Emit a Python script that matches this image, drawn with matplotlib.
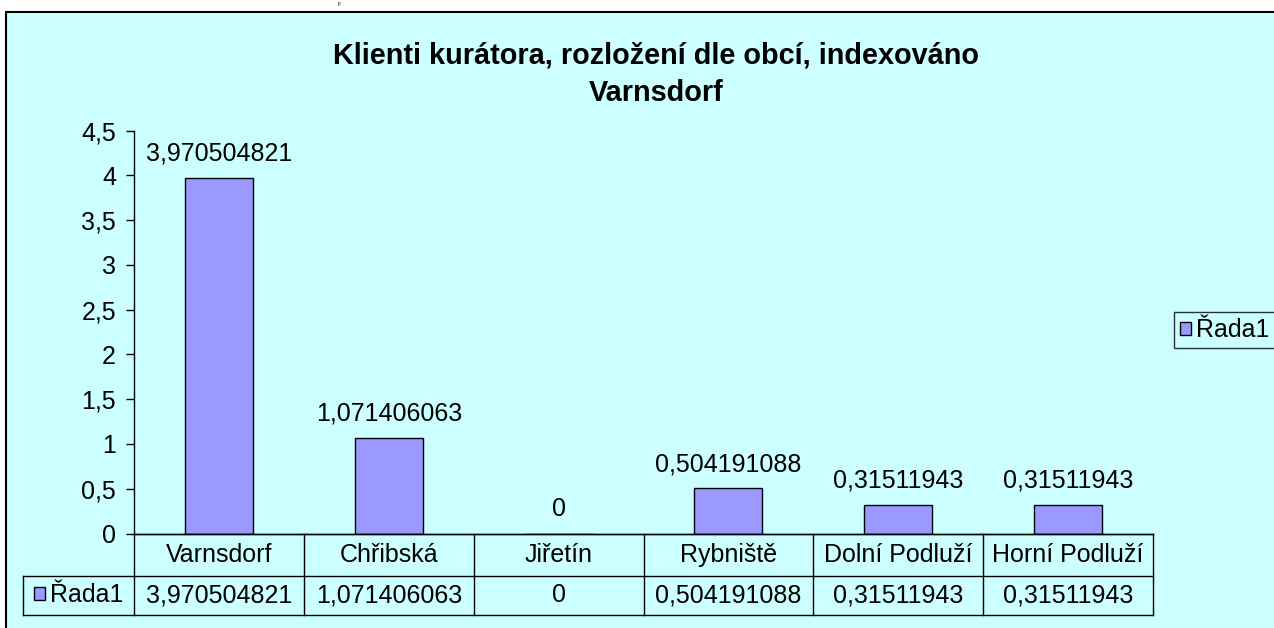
import matplotlib.pyplot as plt
from matplotlib.patches import Rectangle
from matplotlib.ticker import MultipleLocator, FuncFormatter

plt.rcParams['font.family'] = ['Liberation Sans', 'DejaVu Sans']

obce = ['Varnsdorf', 'Chřibská', 'Jiřetín', 'Rybniště', 'Dolní Podluží', 'Horní Podluží']
hodnoty = [3.970504821, 1.071406063, 0, 0.504191088, 0.31511943, 0.31511943]
rada = 'Řada1'
titulek1 = 'Klienti kurátora, rozložení dle obcí, indexováno'
titulek2 = 'Varnsdorf'

W, H = 1274, 628
BG = '#CCFFFF'
BAR = '#9999FF'
FS = 18


def fx(x):
    return x / W


def fy(y):
    return 1 - y / H


def cz(v):
    return f'{v:.10g}'.replace('.', ',')


fig = plt.figure(figsize=(W / 100, H / 100), dpi=100)
fig.patch.set_facecolor('white')

# chart area frame (right and bottom run off the picture)
fig.patches.append(Rectangle((fx(6), -0.1), 1.2, fy(12) + 0.1, transform=fig.transFigure,
                             facecolor=BG, edgecolor='black', lw=1.5, zorder=-5))
# remnant of text above the chart
fig.text(fx(339), fy(0.5), 'p', family='Liberation Serif', fontsize=4,
         ha='center', va='top')

fig.text(fx(656), fy(64), titulek1, ha='center', va='baseline', fontsize=20.8, fontweight='bold')
fig.text(fx(656), fy(101), titulek2, ha='center', va='baseline', fontsize=20.8, fontweight='bold')

y0, y45 = 533.5, 130.7
ax = fig.add_axes([fx(134), fy(y0), fx(1153 - 134), (y0 - y45) / H])
ax.patch.set_alpha(0)
x = list(range(len(obce)))
bars = ax.bar(x, hodnoty, width=0.4, color=BAR, edgecolor='black', lw=1.0, label=rada)
for xi, v in zip(x, hodnoty):
    ax.annotate(cz(v), (xi, v), xytext=(0, 12.5), textcoords='offset points',
                ha='center', va='baseline', fontsize=FS)
ax.set_xlim(-0.5, len(obce) - 0.5)
ax.set_ylim(0, 4.5)
ax.yaxis.set_major_locator(MultipleLocator(0.5))
ax.yaxis.set_major_formatter(FuncFormatter(lambda v, p: cz(round(v, 1))))
ax.tick_params(axis='y', length=6, width=1, pad=7, labelsize=FS)
ax.set_xticks([])
for s in ['top', 'right']:
    ax.spines[s].set_visible(False)
ax.spines['left'].set_linewidth(1)
ax.spines['bottom'].set_linewidth(1)

# data table under the axis
cat_w = (1153 - 134) / len(obce)
xmin = -0.5 - (134 - 23) / cat_w
xmax = len(obce) - 0.5
mid = (615 - 576) / (615 - y0)
tb = fig.add_axes([fx(23), fy(615), fx(1153 - 23), (615 - y0) / H])
tb.set_xlim(xmin, xmax)
tb.set_ylim(0, 1)
tb.axis('off')
lk = dict(color='black', lw=1.0, clip_on=False)
tb.plot([-0.5, xmax], [1, 1], **lk)
tb.plot([xmin, xmax], [mid, mid], **lk)
tb.plot([xmin, xmax], [0, 0], **lk)
tb.plot([xmin, xmin], [0, mid], **lk)
for i in range(len(obce) + 1):
    tb.plot([i - 0.5, i - 0.5], [0, 1], **lk)
for xi, name, v in zip(x, obce, hodnoty):
    tb.text(xi, (1 + mid) / 2, name, ha='center', va='center', fontsize=FS)
    tb.text(xi, mid / 2, cz(v), ha='center', va='center', fontsize=FS)
tb.legend([bars], [rada], loc='center', bbox_to_anchor=((0 - xmin - 0.5) / 2 / (xmax - xmin), mid / 2),
          frameon=False, fontsize=FS, handlelength=0.45, handleheight=0.45,
          handletextpad=0.2, borderpad=0, borderaxespad=0)

# legend on the right
leg = fig.legend([bars], [rada], loc='center left', bbox_to_anchor=(fx(1174), fy(330)),
                 fontsize=FS, frameon=True, fancybox=False, handlelength=0.42,
                 handleheight=0.42, handletextpad=0.2, borderpad=0.25, borderaxespad=0)
leg.get_frame().set_edgecolor('black')
leg.get_frame().set_linewidth(1.0)
leg.get_frame().set_facecolor(BG)

fig.savefig('out.png', dpi=100)
